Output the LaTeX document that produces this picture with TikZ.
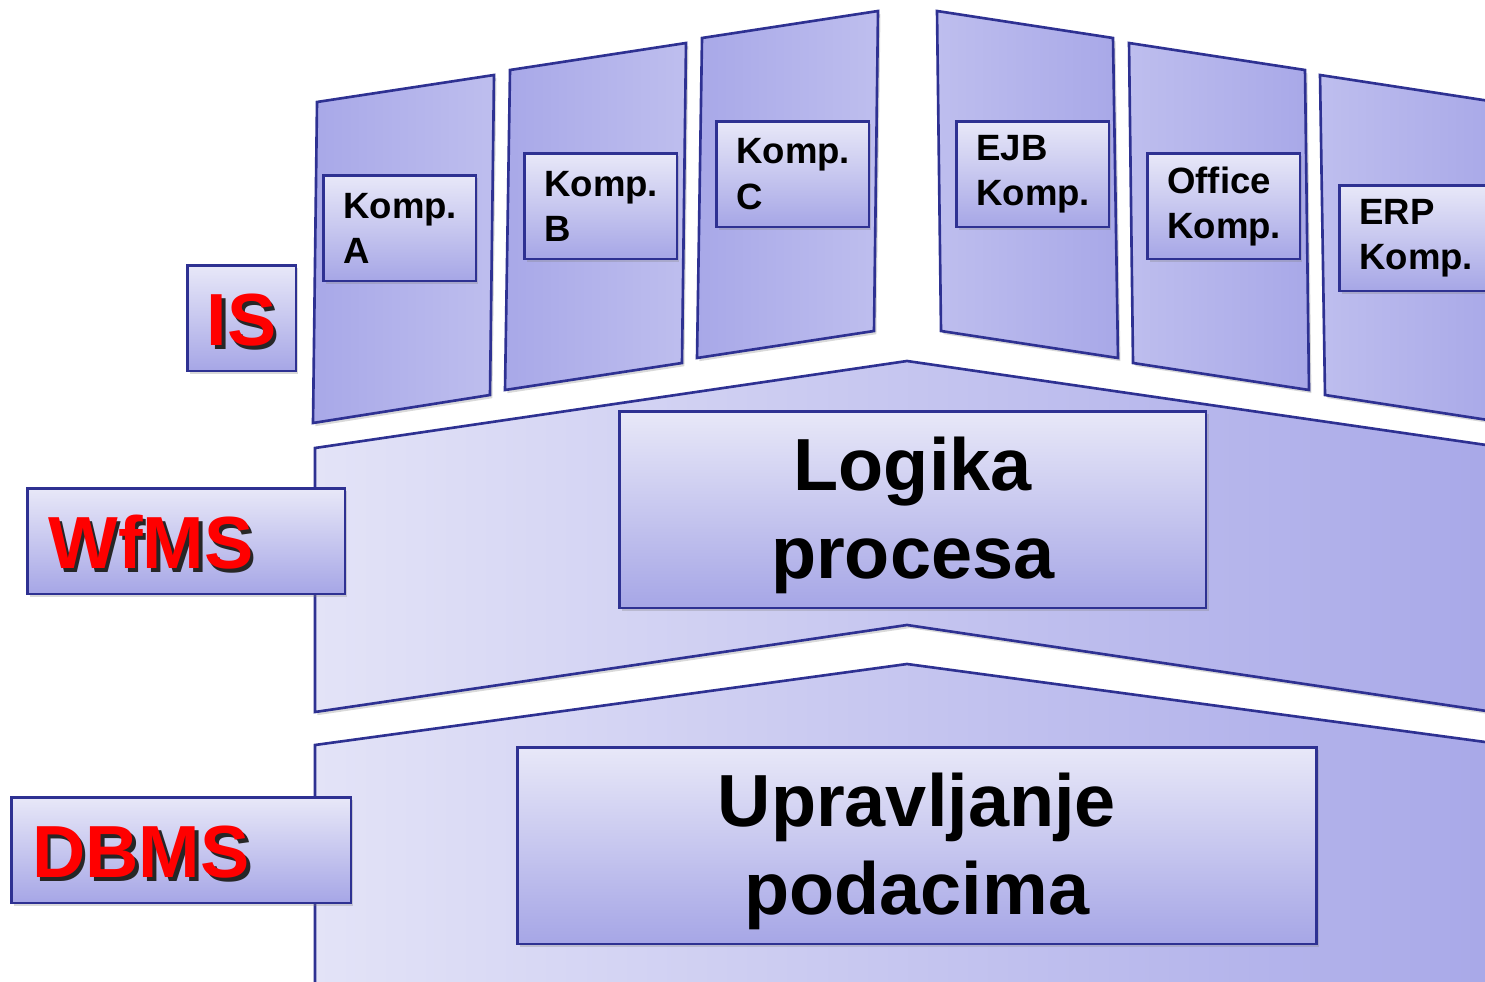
\documentclass[tikz,border=0pt]{standalone}
\usepackage{fontspec}
\setmainfont{Liberation Sans}
\usetikzlibrary{shadows}

\definecolor{frameblue}{HTML}{2E3192}
\definecolor{lavlight}{HTML}{E3E3F7}
\definecolor{lavmid}{HTML}{BEBEEE}
\definecolor{lavdark}{HTML}{A8A8E8}
\definecolor{boxtop}{HTML}{E8E8F8}
\definecolor{boxbot}{HTML}{A6A6E6}

% red label text with a dark shadow
\newcommand{\redlabel}[1]{\rule{0pt}{16.8pt}\rlap{\kern1pt\raisebox{-1pt}{\textcolor{black!85}{#1}}}\textcolor{red}{#1}}
% taller first line, pushes big text a little down
\newcommand{\lowstrut}{\rule{0pt}{18.6pt}}

\tikzset{
  softshadow/.style={drop shadow={shadow xshift=0.7pt, shadow yshift=-0.9pt, opacity=0.3}},
  layer/.style={draw=frameblue, line width=0.75pt, left color=lavlight, right color=lavdark, softshadow},
  panelL/.style={draw=frameblue, line width=0.75pt, left color=lavdark, right color=lavmid, softshadow},
  panelR/.style={draw=frameblue, line width=0.75pt, left color=lavmid, right color=lavdark, softshadow},
  anybox/.style={draw=frameblue, line width=0.75pt, top color=boxtop, bottom color=boxbot, softshadow, anchor=north west, inner ysep=0pt},
  kbox/.style={anybox, minimum height=1.055cm, inner xsep=0.2cm, text width=1.125cm, align=left,
    font=\bfseries\fontsize{10.4}{12.8}\selectfont},
  bigbox/.style={anybox, minimum height=1.965cm, align=center, font=\bfseries\fontsize{21}{25}\selectfont},
  lblbox/.style={anybox, minimum height=1.055cm, inner xsep=0.21cm, align=left, font=\bfseries\fontsize{21}{25}\selectfont}
}

\begin{document}
\begin{tikzpicture}[x=0.01cm, y=-0.01cm]
  \clip (0,0) rectangle (1485,982);

  % layers
  \draw[layer] (315,745) -- (907,664) -- (1500,744) -- (1500,1000) -- (315,1000) -- cycle;
  \draw[layer] (315,448) -- (907,361) -- (1500,447) -- (1500,713) -- (907,625) -- (315,712) -- cycle;

  % component panels
  \draw[panelL] (317,102) -- (494,75) -- (490,395) -- (313,423) -- cycle;
  \draw[panelL] (510,70) -- (686,43) -- (682,363) -- (505,390) -- cycle;
  \draw[panelL] (702,38) -- (878,11) -- (874,331) -- (697,358) -- cycle;
  \draw[panelR] (937,11) -- (1113,38) -- (1118,358) -- (941,331) -- cycle;
  \draw[panelR] (1129,43) -- (1305,70) -- (1309,390) -- (1133,363) -- cycle;
  \draw[panelR] (1320,75) -- (1496,102) -- (1501,422) -- (1325,395) -- cycle;

  % components
  \node[kbox] (kompA) at (322,174) {Komp.\\A};
  \node[kbox] (kompB) at (523,152) {Komp.\\B};
  \node[kbox] (kompC) at (715,120) {Komp.\\C};
  \node[kbox] (ejb) at (955,120) {EJB\\Komp.};
  \node[kbox] (office) at (1146,152) {Office\\Komp.};
  \node[kbox] (erp) at (1338,184) {ERP\\Komp.};

  % layer contents
  \node[bigbox, minimum width=5.865cm] (logika) at (618,410) {\lowstrut Logika\\procesa};
  \node[bigbox, minimum width=7.985cm] (upravljanje) at (516,746) {\lowstrut Upravljanje\\podacima};

  % level labels
  \node[lblbox, minimum width=1.085cm, align=center, inner xsep=0pt] (is) at (186,264) {\redlabel{IS}};
  \node[lblbox, text width=2.755cm] (wfms) at (26,487) {\redlabel{WfMS}};
  \node[lblbox, text width=2.975cm] (dbms) at (10,796) {\redlabel{DBMS}};
\end{tikzpicture}
\end{document}
